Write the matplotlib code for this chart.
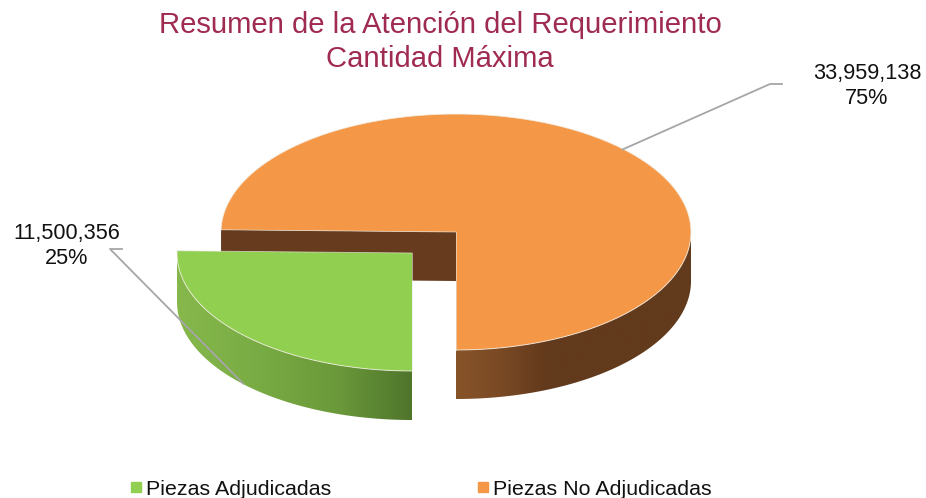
import numpy as np
import matplotlib
matplotlib.use("Agg")
import matplotlib.pyplot as plt
from matplotlib.colors import to_rgb
from matplotlib.lines import Line2D
from matplotlib.patches import Polygon

plt.rcParams['font.family'] = ['Liberation Sans', 'DejaVu Sans']

categories = ["Piezas Adjudicadas", "Piezas No Adjudicadas"]
values = [11500356, 33959138]
percent_labels = ["25%", "75%"]
title_lines = ["Resumen de la Atención del Requerimiento", "Cantidad Máxima"]

GREEN, ORANGE = "#91CF50", "#F49746"
WALL = "#663B1E"
total = sum(values)
sweep_green = 360 * values[0] / total
start = 270 - sweep_green      # green runs from here to 270, orange from 270 round to here

W, H = 926, 498
fig = plt.figure(figsize=(W / 100, H / 100), dpi=100)
ax = fig.add_axes([0, 0, 1, 1])

RX, RY, DEPTH = 235, 118, 49
cx_o, cy_o = 456, 232
cx_g, cy_g = 412, 253


def rim(cx, cy, a0, a1, n=240):
    t = np.radians(np.linspace(a0, a1, n))
    return cx + RX * np.cos(t), cy - RY * np.sin(t)


def side(cx, cy, a0, a1, stops, z):
    """Extruded outer wall: one horizontal gradient image clipped to the wall's outline."""
    x, y = rim(cx, cy, a0, a1, 400)
    poly = np.c_[np.r_[x, x[::-1]], np.r_[y, (y + DEPTH)[::-1]]]
    xs = [s[0] for s in stops]
    rgb = np.array([to_rgb(s[1]) for s in stops])
    grid = np.linspace(x.min(), x.max(), 300)
    img = np.stack([np.interp(grid, xs, rgb[:, k]) for k in range(3)], axis=-1)[None, :, :]
    im = ax.imshow(img, extent=(x.min(), x.max(), y.max() + DEPTH, y.min()), aspect="auto",
                   interpolation="bilinear", zorder=z)
    clip = Polygon(poly, closed=True, transform=ax.transData, fc="none", ec="none")
    ax.add_patch(clip)
    im.set_clip_path(clip)


def top(cx, cy, a0, a1, color, z):
    x, y = rim(cx, cy, a0, a1)
    px = np.r_[cx, x, cx]
    py = np.r_[cy, y, cy]
    ax.fill(px, py, color=color, lw=0, zorder=z)
    ax.plot(x, y, color="#F4EFE6", lw=0.7, alpha=0.8, zorder=z + 0.1)
    ax.plot(px[[0, 1]], py[[0, 1]], color="#E8E8E0", lw=0.6, alpha=0.7, zorder=z + 0.1)
    ax.plot(px[[-2, -1]], py[[-2, -1]], color="#E8E8E0", lw=0.6, alpha=0.7, zorder=z + 0.1)


# orange slice: inner wall, outer wall, top
lx, ly = rim(cx_o, cy_o, start, start, 1)
ax.fill([lx[0], cx_o, cx_o, lx[0]], [ly[0], cy_o, cy_o + DEPTH, ly[0] + DEPTH],
        color=WALL, lw=0, zorder=1)
side(cx_o, cy_o, 270, 360, [(456, "#875329"), (500, "#7A4A25"), (545, "#633A1C"), (691, "#623A1C")], 2)
top(cx_o, cy_o, 270, 360 + start, ORANGE, 3)

# green slice: outer wall, top
side(cx_g, cy_g, 180, 270, [(178, "#86B84C"), (260, "#78AB43"), (340, "#6A983A"), (412, "#4F752B")], 4)
top(cx_g, cy_g, start, 270, GREEN, 5)

# leader lines
ax.plot([622.5, 770, 782], [149.5, 84, 84], color="#A6A6A6", lw=1.3, zorder=6)
ax.plot([122, 110, 243], [249, 249, 383.5], color="#A6A6A6", lw=1.3, zorder=6)

# text
for line, y in zip(title_lines, [25, 58.5]):
    ax.text(440, y, line, ha="center", va="center", fontsize=21.1, color="#A02B50")
ax.text(867, 86, f"{values[1]:,}\n{percent_labels[1]}", ha="center", va="center",
        fontsize=15.6, color="#111111", linespacing=1.25)
ax.text(67, 246, f"{values[0]:,}\n{percent_labels[0]}", ha="center", va="center",
        fontsize=15.6, color="#111111", linespacing=1.25)

handles = [Line2D([], [], ls="", marker="s", ms=7, color=c) for c in (GREEN, ORANGE)]
ax.legend(handles, categories, ncols=2, frameon=False, loc="center left",
          bbox_to_anchor=(128.5 / W, 1 - 489 / H), fontsize=15.4, handlelength=0.7,
          handletextpad=0.14, columnspacing=6.7, borderpad=0, borderaxespad=0,
          labelcolor="#111111")

ax.set_xlim(0, W)
ax.set_ylim(H, 0)
ax.axis("off")
fig.savefig("out.png", dpi=100, facecolor="white")
